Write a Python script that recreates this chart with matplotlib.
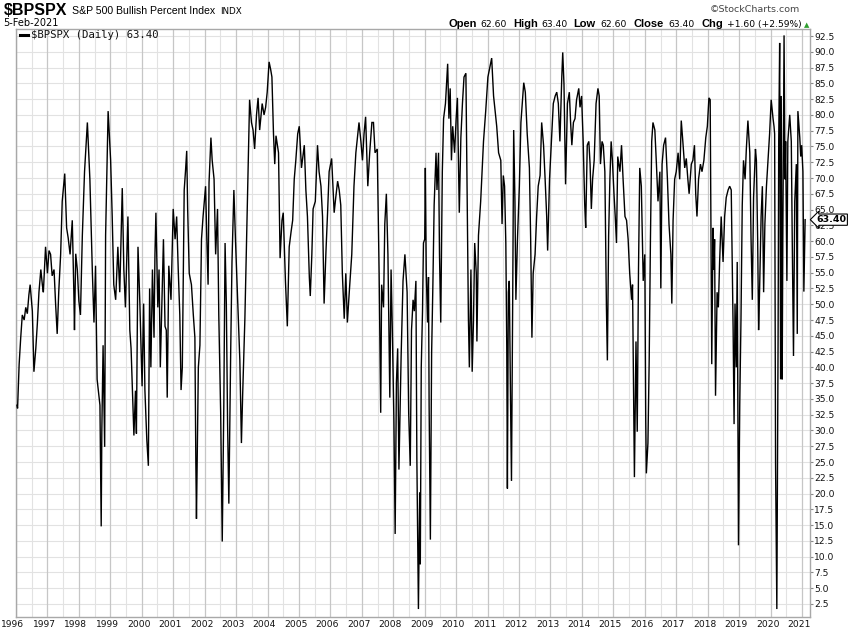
import matplotlib
matplotlib.use("Agg")
import matplotlib.pyplot as plt
import matplotlib.transforms as mtransforms
from matplotlib.ticker import FixedLocator

# ---------------- data (decimal year, S&P 500 Bullish Percent) ----------------
dates = [
    1996.03, 1996.05, 1996.10, 1996.15, 1996.20, 1996.26, 1996.31, 1996.36, 1996.41, 1996.45,
    1996.52, 1996.57, 1996.63, 1996.68, 1996.73, 1996.79, 1996.84, 1996.87, 1996.94, 1997.00,
    1997.05, 1997.10, 1997.15, 1997.21, 1997.26, 1997.31, 1997.36, 1997.42, 1997.47, 1997.55,
    1997.61, 1997.66, 1997.72, 1997.79, 1997.84, 1997.86, 1997.90, 1997.95, 1998.00, 1998.05,
    1998.11, 1998.18, 1998.27, 1998.35, 1998.43, 1998.48, 1998.53, 1998.58, 1998.67, 1998.71,
    1998.73, 1998.77, 1998.82, 1998.85, 1998.93, 1999.01, 1999.06, 1999.11, 1999.17, 1999.24,
    1999.30, 1999.38, 1999.43, 1999.48, 1999.56, 1999.62, 1999.66, 1999.75, 1999.80, 1999.83,
    1999.88, 1999.94, 2000.01, 2000.06, 2000.10, 2000.16, 2000.21,
    2000.25, 2000.29, 2000.34, 2000.39, 2000.42, 2000.45, 2000.51, 2000.55, 2000.59, 2000.69,
    2000.74, 2000.78, 2000.81, 2000.86, 2000.93, 2001.00, 2001.06, 2001.11, 2001.16, 2001.21,
    2001.25, 2001.29, 2001.35, 2001.39, 2001.43, 2001.46, 2001.51, 2001.58, 2001.64, 2001.69,
    2001.72, 2001.74, 2001.80, 2001.85, 2001.90, 2001.95, 2002.03, 2002.07, 2002.11, 2002.14,
    2002.20, 2002.24, 2002.30, 2002.35, 2002.41, 2002.45, 2002.51, 2002.56, 2002.61, 2002.65,
    2002.69, 2002.73, 2002.77, 2002.83, 2002.87, 2002.93, 2002.98, 2003.04, 2003.12, 2003.17,
    2003.21, 2003.28, 2003.33, 2003.38, 2003.43, 2003.49, 2003.54, 2003.59, 2003.65, 2003.70,
    2003.75, 2003.83, 2003.89, 2003.94, 2003.99, 2004.05, 2004.10, 2004.14, 2004.19, 2004.23,
    2004.27, 2004.35, 2004.40, 2004.46, 2004.50, 2004.57, 2004.63, 2004.69, 2004.75, 2004.80,
    2004.85, 2004.90, 2004.96, 2005.01, 2005.08, 2005.17, 2005.22, 2005.27, 2005.33, 2005.36,
    2005.41, 2005.45, 2005.52, 2005.59, 2005.64, 2005.70, 2005.75, 2005.80, 2005.86, 2005.91,
    2005.96, 2006.04, 2006.12, 2006.17, 2006.23, 2006.28, 2006.33, 2006.38, 2006.44, 2006.49,
    2006.54, 2006.60, 2006.68, 2006.75, 2006.81, 2006.86, 2006.91, 2006.97, 2007.02, 2007.07,
    2007.12, 2007.19, 2007.25, 2007.32, 2007.37, 2007.42, 2007.49, 2007.55, 2007.60, 2007.63,
    2007.69, 2007.73, 2007.78, 2007.83, 2007.89, 2007.93, 2007.97, 2008.02, 2008.06, 2008.10,
    2008.14, 2008.18, 2008.25, 2008.31, 2008.37,
    2008.44, 2008.49, 2008.54, 2008.58, 2008.63, 2008.67, 2008.72, 2008.75, 2008.80, 2008.84,
    2008.86, 2008.89, 2008.93, 2008.96, 2009.00, 2009.02, 2009.05, 2009.09, 2009.12, 2009.14,
    2009.18, 2009.22, 2009.26, 2009.30, 2009.36, 2009.39, 2009.44, 2009.47, 2009.51, 2009.56,
    2009.60, 2009.66, 2009.73, 2009.77, 2009.81, 2009.85, 2009.89, 2009.95, 2010.00, 2010.04,
    2010.10, 2010.15, 2010.20, 2010.25, 2010.31, 2010.36, 2010.39, 2010.42, 2010.47, 2010.51,
    2010.55, 2010.59, 2010.64, 2010.66, 2010.71, 2010.78, 2010.87, 2010.94, 2011.01, 2011.08,
    2011.13, 2011.19, 2011.24, 2011.29, 2011.35, 2011.42, 2011.46, 2011.50, 2011.54, 2011.58,
    2011.61, 2011.63, 2011.66, 2011.69, 2011.73, 2011.76, 2011.80, 2011.83, 2011.87, 2011.90,
    2011.95, 2012.01, 2012.06, 2012.11, 2012.15, 2012.20, 2012.26, 2012.33, 2012.37, 2012.41,
    2012.45, 2012.51, 2012.56, 2012.61, 2012.67,
    2012.72, 2012.78, 2012.83, 2012.88, 2012.91, 2012.97, 2013.04, 2013.09, 2013.15, 2013.20,
    2013.25, 2013.30, 2013.36, 2013.39, 2013.43, 2013.48, 2013.54, 2013.60, 2013.64, 2013.68,
    2013.73, 2013.78, 2013.83, 2013.90, 2013.94, 2013.99, 2014.04, 2014.09, 2014.12, 2014.17,
    2014.22, 2014.26, 2014.30, 2014.34, 2014.39, 2014.45, 2014.51, 2014.55, 2014.59, 2014.64,
    2014.68, 2014.73, 2014.78, 2014.81, 2014.85, 2014.89, 2014.93, 2014.97, 2015.02, 2015.06,
    2015.10, 2015.14, 2015.21, 2015.26, 2015.31, 2015.37, 2015.42, 2015.47, 2015.52, 2015.58,
    2015.61, 2015.65, 2015.67, 2015.72, 2015.76, 2015.80, 2015.84, 2015.89, 2015.95, 2016.00,
    2016.03, 2016.05, 2016.10, 2016.14, 2016.18, 2016.22, 2016.26, 2016.32, 2016.37, 2016.42,
    2016.48, 2016.51, 2016.55, 2016.60, 2016.66, 2016.72, 2016.77, 2016.83, 2016.86, 2016.90,
    2016.95, 2017.00, 2017.06, 2017.11, 2017.16, 2017.21, 2017.27, 2017.32, 2017.37, 2017.41,
    2017.48, 2017.53, 2017.58, 2017.62, 2017.66, 2017.71, 2017.77, 2017.82, 2017.88, 2017.94,
    2017.99, 2018.04, 2018.08, 2018.13, 2018.17, 2018.20, 2018.22, 2018.25, 2018.30, 2018.34,
    2018.38, 2018.43, 2018.49, 2018.54, 2018.59, 2018.65, 2018.70, 2018.75, 2018.81, 2018.84,
    2018.87, 2018.91, 2018.94, 2018.98, 2019.02, 2019.06, 2019.10, 2019.14, 2019.19, 2019.23,
    2019.28, 2019.34, 2019.38, 2019.42, 2019.46, 2019.52, 2019.55, 2019.59, 2019.62, 2019.65,
    2019.70, 2019.74, 2019.78, 2019.82, 2019.87, 2019.92, 2019.97, 2020.02, 2020.08, 2020.11,
    2020.13, 2020.16, 2020.20, 2020.22, 2020.24, 2020.26, 2020.29, 2020.32, 2020.34, 2020.37,
    2020.39, 2020.43, 2020.46, 2020.48, 2020.52, 2020.55, 2020.61, 2020.66, 2020.69, 2020.73,
    2020.77, 2020.82, 2020.85, 2020.87, 2020.93, 2020.96, 2020.99, 2021.03, 2021.06, 2021.10,
]

values = [
    34.0, 33.5, 40.5, 44.7, 48.3, 47.5, 49.5, 48.5, 51.5, 53.1,
    48.9, 39.3, 43.0, 47.0, 51.9, 55.5, 53.0, 51.9, 59.1, 54.9,
    58.5, 57.9, 54.5, 55.5, 50.0, 45.3, 52.0, 57.9, 66.3, 70.7,
    62.1, 60.5, 57.9, 63.3, 51.9, 45.9, 58.0, 55.5, 50.5, 48.3,
    60.9, 71.0, 78.8, 69.8, 54.9, 47.1, 56.1, 38.1, 34.0, 14.8,
    30.0, 43.5, 27.4, 60.9, 80.6, 72.8, 63.9, 53.1, 50.7, 59.1,
    51.9, 68.4, 55.5, 49.5, 63.9, 45.9, 43.0, 29.2, 36.3, 29.5,
    59.1, 50.1, 37.0, 50.1, 36.4, 28.6, 24.4,
    52.5, 40.0, 55.5, 44.7, 57.9, 64.5, 49.5, 55.5, 40.0, 60.3,
    46.5, 45.9, 35.2, 56.1, 50.7, 65.1, 60.3, 63.9, 55.5, 48.3,
    36.4, 40.0, 68.1, 71.0, 74.3, 65.1, 54.9, 53.1, 48.3, 44.7,
    25.0, 16.0, 40.0, 43.5, 60.3, 63.9, 68.7, 60.3, 53.1, 69.3,
    76.4, 72.8, 69.8, 57.9, 65.1, 48.3, 32.8, 12.4, 34.0, 59.7,
    50.1, 31.0, 18.4, 43.0, 56.7, 68.1, 60.3, 51.9, 41.1, 28.0,
    35.8, 47.7, 59.1, 70.4, 82.4, 78.8, 77.6, 74.6, 80.0, 82.7,
    77.6, 81.8, 80.0, 81.2, 83.6, 88.4, 87.2, 86.0, 77.0, 72.2,
    76.7, 74.0, 57.3, 63.3, 64.5, 53.7, 46.5, 59.1, 61.5, 63.3,
    69.8, 72.8, 77.0, 78.2, 71.6, 75.2, 68.1, 63.9, 54.3, 51.3,
    57.9, 65.1, 66.3, 75.2, 71.0, 68.7, 63.9, 50.1, 58.5, 64.5,
    71.0, 73.1, 64.5, 66.9, 69.5, 68.1, 65.7, 54.9, 47.7, 54.9,
    47.1, 51.9, 57.9, 68.7, 74.0, 76.4, 78.8, 75.8, 72.8, 77.0,
    79.7, 68.7, 74.0, 78.8, 78.8, 74.0, 74.6, 54.9, 32.8, 53.1,
    49.5, 62.7, 67.5, 57.9, 35.2, 55.5, 45.9, 31.6, 13.6, 37.6,
    43.0, 23.8, 41.8, 53.7, 57.9,
    51.9, 32.8, 24.4, 45.9, 50.7, 48.9, 53.7, 25.6, 1.7, 20.2,
    8.8, 40.0, 48.9, 59.7, 60.3, 71.6, 54.9, 47.1, 54.3, 34.0,
    12.7, 42.3, 53.1, 65.7, 74.0, 68.1, 74.0, 57.9, 47.1, 71.0,
    79.4, 81.8, 88.1, 79.4, 84.2, 72.8, 78.2, 74.0, 79.4, 82.7,
    64.5, 76.4, 81.8, 86.0, 86.6, 62.7, 47.7, 40.0, 55.5, 39.3,
    47.1, 59.7, 54.9, 44.1, 60.9, 66.3, 75.8, 80.6, 86.0, 87.8,
    89.0, 83.0, 80.6, 78.2, 74.0, 72.8, 62.7, 70.4, 68.7, 59.7,
    43.0, 20.8, 51.9, 53.7, 34.6, 22.0, 51.9, 77.6, 66.3, 50.7,
    60.3, 68.7, 78.8, 82.4, 85.1, 83.6, 77.0, 71.6, 60.3, 44.7,
    54.9, 57.9, 63.9, 68.7, 70.4,
    78.8, 75.2, 69.8, 63.9, 58.5, 69.8, 77.0, 81.8, 83.0, 83.6,
    81.8, 75.8, 86.0, 89.9, 84.8, 69.0, 81.8, 83.6, 78.8, 75.2,
    78.8, 79.4, 82.4, 84.2, 81.2, 83.0, 75.8, 65.7, 62.1, 75.2,
    75.8, 72.2, 65.1, 69.8, 72.8, 81.8, 84.2, 83.0, 72.2, 75.8,
    75.2, 71.0, 49.5, 41.1, 60.9, 69.8, 75.8, 72.8, 67.5, 63.9,
    59.7, 73.4, 71.0, 75.2, 69.8, 63.9, 63.3, 60.3, 54.9, 50.7,
    53.1, 32.2, 22.6, 44.1, 29.8, 55.5, 71.6, 68.7, 53.7, 57.9,
    31.6, 23.2, 28.0, 41.1, 60.3, 75.8, 78.8, 77.6, 72.2, 66.3,
    71.0, 52.5, 72.2, 75.2, 76.4, 69.8, 62.7, 57.9, 50.1, 63.3,
    69.8, 71.0, 74.0, 69.8, 79.1, 75.8, 71.6, 73.1, 69.8, 67.5,
    72.2, 72.8, 75.2, 67.5, 63.9, 69.8, 72.2, 71.0, 72.8, 76.4,
    78.2, 82.7, 82.4, 40.5, 62.1, 55.5, 60.3, 35.5, 51.9, 49.5,
    56.7, 63.9, 56.7, 63.9, 66.9, 68.1, 68.7, 68.1, 45.9, 31.0,
    50.1, 40.0, 56.7, 11.8, 34.0, 47.7, 65.7, 72.8, 69.8, 74.6,
    79.1, 74.0, 60.3, 50.7, 66.9, 74.6, 72.8, 60.3, 45.9, 51.9,
    63.9, 68.7, 51.9, 62.7, 68.7, 72.8, 77.0, 82.4, 79.4, 78.2,
    77.0, 24.4, 1.7, 22.0, 44.7, 75.8, 91.4, 38.1, 83.0, 38.1,
    60.0, 92.6, 69.8, 75.8, 53.7, 75.8, 80.0, 75.8, 60.3, 41.8,
    66.3, 72.2, 45.3, 80.6, 76.4, 73.4, 75.2, 71.0, 52.0, 63.4,
]

year_ticks = list(range(1996, 2022))
half_year_ticks = [y + 0.5 for y in range(1996, 2021)]
value_ticks = [2.5 * i for i in range(1, 38)]

symbol = "$BPSPX"
title_text = "S&P 500 Bullish Percent Index"
exchange = "INDX"
date_text = "5-Feb-2021"
quote_labels = ["Open", "High", "Low", "Close", "Chg"]
quote_values = ["62.60", "63.40", "62.60", "63.40", "+1.60 (+2.59%)"]
last_value = 63.40

# ---------------- figure ----------------
W, H = 850, 633
fig = plt.figure(figsize=(W / 100, H / 100), dpi=100)
fig.patch.set_facecolor("white")

L, R, T, B = 16, 810, 29, 617
ax = fig.add_axes([L / W, (H - B) / H, (R - L) / W, (B - T) / H])

ax.plot(dates, values, color="black", lw=1.0, solid_joinstyle="miter", zorder=3)

ax.set_xlim(1996.0, 2021.255)
ax.set_ylim(0.44, 93.61)

# gridlines
for y in value_ticks:
    ax.axhline(y, color="#e2e2e2", lw=0.8, zorder=1)
for x in half_year_ticks:
    ax.axvline(x, color="#e2e2e2", lw=0.8, zorder=1)
for x in year_ticks:
    ax.axvline(x, color="#c6c6c6", lw=0.9, zorder=1)

for s in ax.spines.values():
    s.set_color("#a8a8a8")
    s.set_linewidth(1.0)

# x axis
ax.xaxis.set_major_locator(FixedLocator(year_ticks))
ax.set_xticklabels([str(y) for y in year_ticks])
ax.tick_params(axis="x", length=0, pad=2.5, labelsize=6.6, labelcolor="#111111")
offset = mtransforms.ScaledTranslation(-3 / 100, 0, fig.dpi_scale_trans)
for lbl in ax.get_xticklabels():
    lbl.set_transform(lbl.get_transform() + offset)

# y axis (right)
ax.yaxis.tick_right()
ax.yaxis.set_major_locator(FixedLocator(value_ticks))
ax.set_yticklabels([f"{v:.1f}" for v in value_ticks])
ax.tick_params(axis="y", length=2, width=0.8, color="#888888", pad=1,
               labelsize=6.6, labelcolor="#111111")

# last value tag (drawn over the neighbouring tick label, as in the original)
ax.annotate(f"{last_value:.2f}", xy=(1.0, last_value), xycoords=("axes fraction", "data"),
            xytext=(4.5, 0), textcoords="offset points", ha="left", va="center",
            fontsize=6.8, fontweight="bold", family="DejaVu Sans", color="black",
            bbox=dict(boxstyle="larrow,pad=0.12", fc="white", ec="black", lw=0.8),
            annotation_clip=False, zorder=5)

# legend
fig.add_artist(plt.Line2D([20 / W, 28 / W], [1 - 35 / H, 1 - 35 / H],
                          color="black", lw=2.2, transform=fig.transFigure))
fig.text(31 / W, 1 - 35 / H, f"{symbol} (Daily) {last_value:.2f}", fontsize=7.7,
         family="DejaVu Sans Mono", va="center", ha="left", color="#111111")

# header
fig.text(4 / W, 1 - 15 / H, symbol, fontsize=11.5, fontweight="bold",
         family="Liberation Sans", va="baseline", ha="left")
fig.text(72 / W, 1 - 14 / H, title_text, fontsize=7.6, family="Liberation Sans",
         va="baseline", ha="left")
fig.text(220 / W, 1 - 14 / H, exchange, fontsize=6.3, family="DejaVu Sans",
         va="baseline", ha="left")
fig.text(3 / W, 1 - 26 / H, date_text, fontsize=7.0, family="DejaVu Sans",
         va="baseline", ha="left")
fig.text(800 / W, 1 - 12 / H, "\u00a9StockCharts.com", fontsize=6.8, family="DejaVu Sans",
         va="baseline", ha="right", color="#444444")

# quote line
label_x = [448, 513, 573, 633, 702]
value_x = [480, 541, 600, 668, 727]
for lab, lx, val, vx in zip(quote_labels, label_x, quote_values, value_x):
    fig.text(lx / W, 1 - 27 / H, lab, fontsize=8, fontweight="bold",
             family="Liberation Sans", va="baseline", ha="left")
    fig.text(vx / W, 1 - 27 / H, val, fontsize=6.6, family="DejaVu Sans",
             va="baseline", ha="left")
fig.text(807 / W, 1 - 27 / H, "\u25b2", fontsize=5, family="DejaVu Sans",
         va="baseline", ha="center", color="#2e9e2e")

fig.savefig("out.png", dpi=100, facecolor="white")
